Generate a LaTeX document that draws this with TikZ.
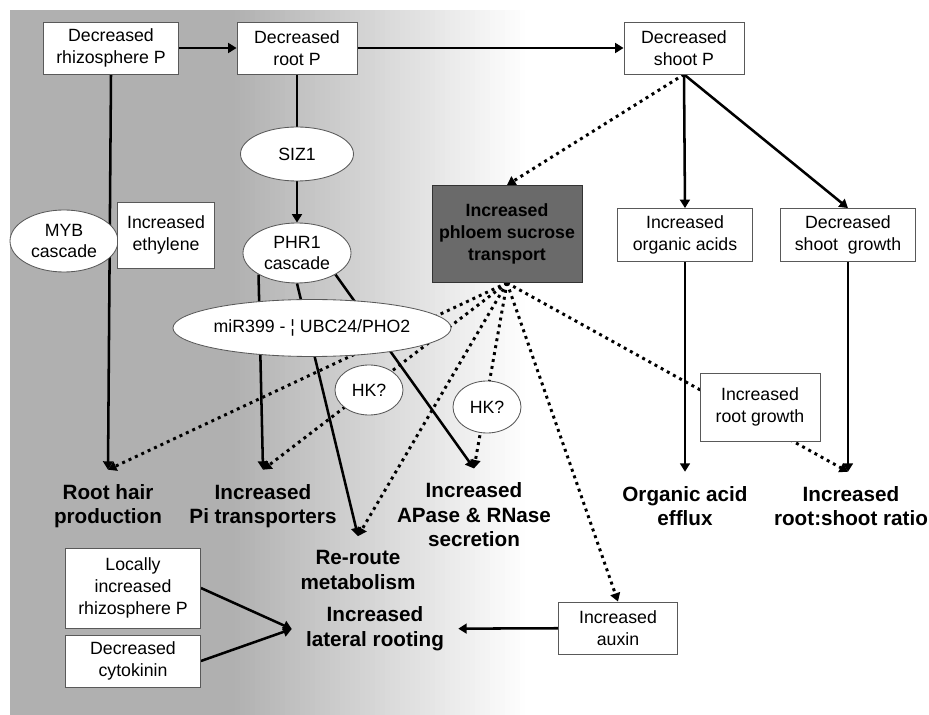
\documentclass[tikz,border=0pt]{standalone}
\usepackage{fontspec}
\setmainfont{Liberation Sans}
\usetikzlibrary{shapes.geometric,arrows.meta}
\pgfdeclarelayer{shade}
\pgfdeclarelayer{links}
\pgfsetlayers{shade,links,main}
\definecolor{bggray}{RGB}{176,176,176}
\definecolor{phloemgray}{RGB}{106,106,106}
\newcommand{\pxu}{0.025cm}

\begin{document}
\begin{tikzpicture}[x=\pxu,y=-\pxu,
	sz/.style 2 args={minimum width=#1*\pxu,minimum height=#2*\pxu},
	box/.style={draw=black!65,fill=white,line width=0.6pt,align=center,inner sep=1pt,font=\fontsize{12.6}{15.4}\selectfont},
	oval/.style={ellipse,draw=black!65,fill=white,line width=0.6pt,align=center,inner sep=0pt,font=\fontsize{12.6}{15.4}\selectfont},
	result/.style={align=center,inner sep=10pt,font=\fontsize{14.7}{17.5}\selectfont\bfseries},
	link/.style={line width=1.8pt,-{Triangle[length=6pt,width=7pt]}},
	dotlink/.style={line width=2.1pt,dash pattern=on 2.1pt off 2.9pt,-{Triangle[length=6pt,width=7pt]}}]
		\useasboundingbox (0,0) rectangle (929,715);
		
		\node[box,sz={135}{52}] (rhiz) at (111,48) {Decreased\\rhizosphere P};
		\node[box,sz={120}{52}] (rootp) at (297,48) {Decreased\\root P};
		\node[box,sz={120}{52}] (shootp) at (684,48) {Decreased\\shoot P};
		\node[oval,sz={113}{54}] (siz) at (297,154) {SIZ1};
		\node[oval,sz={108}{60}] (phr) at (297,253) {PHR1\\cascade};
		\node[oval,sz={108}{62}] (myb) at (64,241) {MYB\\cascade};
		\node[box,sz={97}{66}] (ethyl) at (166,235) {Increased\\ethylene};
		\node[box,sz={150}{97},fill=phloemgray,draw=black!80,font=\fontsize{12.6}{15.4}\selectfont\bfseries] (phloem) at (507,234) {Increased\\phloem sucrose\\transport};
		\node[box,sz={135}{53}] (orgacid) at (685,235) {Increased\\organic acids};
		\node[box,sz={135}{53}] (shootgr) at (848,235) {Decreased\\shoot\ \ growth};
		\node[oval,sz={221}{57}] (mir) at (312,328) {miR399 - ¦ UBC24/PHO2};
		\node[oval,sz={68}{50}] (hkleft) at (369,390) {HK?};
		\node[oval,sz={68}{52}] (hkright) at (487,407) {HK?};
		\node[box,sz={120}{68}] (rootgr) at (760,407) {Increased\\root growth};
		
		\node[result] (roothair) at (108,506) {Root hair\\production};
		\node[result] (pitrans) at (263,506) {Increased\\Pi transporters};
		\node[result] (apase) at (474,515) {Increased\\APase \& RNase\\secretion};
		\node[result] (efflux) at (685,506) {Organic acid\\efflux};
		\node[result] (ratio) at (851,506) {Increased\\root:shoot ratio};
		\node[result] (reroute) at (358,570) {Re-route\\metabolism};
		\node[result] (lateral) at (375,629) {Increased\\lateral rooting};
		
		\node[box,sz={135}{80}] (local) at (133,588) {Locally\\increased\\rhizosphere P};
		\node[box,sz={135}{52}] (cyto) at (133,661) {Decreased\\cytokinin};
		\node[box,sz={119}{52}] (auxin) at (618,628) {Increased\\auxin};
		
		\begin{pgfonlayer}{shade}
		\fill[bggray] (10,10) rectangle (231,715);
		\foreach \i in {0,...,59}
		{
		\pgfmathsetmacro\f{100-\i*100/59}
		\fill[bggray!\f!white] (230+\i*5,10) rectangle (236+\i*5,715);
		}
		\end{pgfonlayer}
		
		\begin{pgfonlayer}{links}
		\draw[link] (rhiz) -- (rootp);
		\draw[link] (rootp) -- (shootp);
		\draw[line width=1.8pt] (rootp) -- (siz);
		\draw[link] (siz) -- (phr);
		\draw[link] (rhiz.south) -- (roothair.north);
		\draw[link] (phr.south west) -- (pitrans.north);
		\draw[link] (phr.south) -- (reroute.north);
		\draw[link] (phr.south east) -- (apase.north);
		\draw[dotlink] (shootp.south) -- (phloem.north);
		\draw[link] (shootp.south) -- (orgacid.north);
		\draw[link] (shootp.south) -- (shootgr.north);
		\draw[link] (orgacid) -- (efflux);
		\draw[link] (shootgr) -- (shootgr |- ratio.north);
		\foreach \t in {roothair,pitrans,reroute,apase,auxin}
		{
		\draw[dotlink] (phloem.south) -- (\t.north);
		}
		\draw[dotlink] (phloem.south) -- (shootgr |- ratio.north);
		\draw[link] (local.east) -- (lateral.west);
		\draw[link] (cyto.east) -- (lateral.west);
		\draw[link] (auxin) -- (lateral);
		\end{pgfonlayer}
	\end{tikzpicture}
\end{document}
